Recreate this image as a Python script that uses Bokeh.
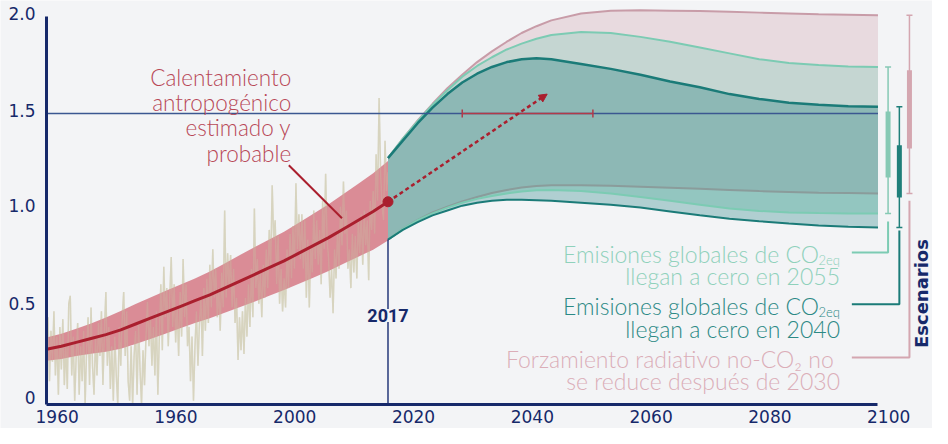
from bokeh.plotting import figure
from bokeh.models import LinearAxis, FixedTicker, Range1d, ColumnDataSource, Arrow, NormalHead
from bokeh.core.properties import value
from bokeh.embed import file_html
from bokeh.resources import INLINE

# ---------------- data ----------------
# observed temperature anomaly, 4 readings per year from 1960
obs_temp = [
    0.30, 0.45, 0.12, 0.38,  0.22, 0.48, 0.15, 0.35,  0.05, 0.40, 0.18, 0.44,
    0.10, 0.30, 0.08, 0.52,  0.56, 0.15, 0.35, 0.02,  0.25, 0.42, 0.05, 0.30,
    0.12, 0.38, 0.00, 0.28,  0.45, 0.10, 0.50, 0.20,  0.05, 0.35, 0.15, 0.42,
    0.25, 0.48, 0.10, 0.38,  0.58, 0.20, 0.40, 0.08,  0.30, 0.02, 0.35, 0.15,
    0.00, 0.40, 0.20, 0.45,  0.58, 0.25, 0.48, 0.12,  0.02, 0.30, 0.00, 0.25,
    0.38, 0.05, 0.42, 0.18,  0.00, 0.28, 0.10, 0.35,  0.53, 0.30, 0.45, 0.20,
    0.40, 0.15, 0.48, 0.05,  0.35, 0.62, 0.28, 0.71,  0.45, 0.60, 0.30, 0.55,
    0.76, 0.40, 0.62, 0.32,  0.50, 0.25, 0.58, 0.35,  0.75, 0.45, 0.62, 0.30,
    0.40, 0.12, 0.35, 0.02,  0.30, 0.48, 0.20, 0.42,  0.55, 0.25, 0.60, 0.38,
    0.65, 0.42, 0.72, 0.50,  0.80, 0.55, 0.70, 0.45,  0.60, 0.38, 0.68, 0.50,
    1.00, 0.55, 0.78, 0.60,  0.77, 0.50, 0.70, 0.42,  0.55, 0.23, 0.45, 0.28,
    0.48, 0.26, 0.55, 0.35,  0.62, 0.40, 0.70, 0.45,  1.01, 0.60, 0.75, 0.52,
    0.68, 0.45, 0.72, 0.55,  0.80, 0.60, 0.90, 0.70,  1.13, 0.85, 0.95, 0.62,
    0.87, 0.52, 0.70, 0.48,  0.65, 0.50, 0.80, 0.60,  0.88, 0.65, 0.92, 0.70,
    1.14, 0.80, 0.98, 0.75,  0.98, 0.70, 0.95, 0.55,  0.85, 0.50, 0.82, 0.68,
    1.00, 0.75, 0.95, 0.72,  0.90, 0.62, 1.05, 0.80,  1.19, 0.85, 0.75, 0.55,
    0.70, 0.47, 0.80, 0.65,  0.90, 0.70, 1.02, 0.82,  1.15, 0.88, 1.00, 0.70,
    0.80, 0.60, 0.88, 0.68,  0.87, 0.65, 0.95, 0.78,  0.98, 0.72, 1.00, 0.82,
    0.95, 0.64, 1.05, 0.90,  1.10, 0.88, 1.29, 1.05,  1.58, 1.20, 1.02, 0.95,
    1.36, 1.10, 1.20,
]
obs_years = [1960 + i / 4 for i in range(len(obs_temp))]

hist_years = [1960, 1962.5, 1965, 1967.5, 1970, 1972.5, 1975, 1977.5, 1980, 1982.5, 1985, 1987.5,
              1990, 1992.5, 1995, 1997.5, 2000, 2002.5, 2005, 2007.5, 2010, 2012.5, 2015, 2017.5]
hist_central = [0.285, 0.30, 0.32, 0.34, 0.36, 0.385, 0.415, 0.445, 0.475, 0.505, 0.535, 0.565,
                0.60, 0.635, 0.67, 0.705, 0.74, 0.78, 0.82, 0.86, 0.905, 0.95, 0.995, 1.045]
hist_high = [0.345, 0.365, 0.39, 0.418, 0.448, 0.482, 0.518, 0.552, 0.585, 0.617, 0.65, 0.685,
             0.727, 0.769, 0.81, 0.85, 0.89, 0.937, 0.985, 1.032, 1.085, 1.138, 1.192, 1.255]
hist_low = [0.225, 0.235, 0.25, 0.262, 0.272, 0.288, 0.312, 0.338, 0.365, 0.393, 0.42, 0.445,
            0.473, 0.501, 0.53, 0.56, 0.59, 0.623, 0.655, 0.688, 0.725, 0.762, 0.798, 0.845]

fut_years = [2017.5, 2020, 2022.5, 2025, 2027.5, 2030, 2032.5, 2035, 2037.5, 2040, 2042.5,
             2045, 2050, 2055, 2060, 2065, 2070, 2075, 2080, 2085, 2090, 2095, 2100]
s2040_high = [1.27, 1.36, 1.45, 1.53, 1.60, 1.66, 1.705, 1.74, 1.765, 1.78, 1.785,
              1.78, 1.755, 1.73, 1.70, 1.665, 1.635, 1.60, 1.575, 1.555, 1.545, 1.538, 1.535]
s2040_low = [0.85, 0.90, 0.94, 0.975, 1.00, 1.025, 1.04, 1.05, 1.055, 1.055, 1.053,
             1.05, 1.04, 1.03, 1.015, 0.995, 0.975, 0.958, 0.945, 0.933, 0.923, 0.916, 0.912]
s2055_high = [1.27, 1.37, 1.46, 1.545, 1.62, 1.69, 1.745, 1.79, 1.83, 1.86, 1.885,
              1.905, 1.92, 1.915, 1.895, 1.87, 1.84, 1.81, 1.78, 1.76, 1.75, 1.742, 1.74]
s2055_low = [0.85, 0.905, 0.95, 0.985, 1.015, 1.04, 1.06, 1.075, 1.088, 1.098, 1.104,
             1.106, 1.10, 1.088, 1.07, 1.05, 1.03, 1.01, 0.998, 0.99, 0.987, 0.985, 0.985]
snonco2_high = [1.27, 1.37, 1.465, 1.55, 1.63, 1.70, 1.765, 1.82, 1.87, 1.915, 1.95,
                1.98, 2.015, 2.03, 2.032, 2.03, 2.028, 2.024, 2.02, 2.016, 2.012, 2.009, 2.006]
snonco2_low = [0.85, 0.905, 0.952, 0.99, 1.02, 1.047, 1.07, 1.09, 1.106, 1.118, 1.126,
               1.13, 1.13, 1.127, 1.122, 1.117, 1.112, 1.106, 1.10, 1.096, 1.092, 1.09, 1.088]

# likely ranges in 2100 (thick part of the scenario bars)
likely_2055 = [1.17, 1.51]
likely_2040 = [1.067, 1.337]
likely_nonco2 = [1.32, 1.723]

NOW_YEAR = 2017.5
NOW_VALUE = 1.045
ARROW_END = [2044.3, 1.60]
THRESHOLD = 1.5
CROSS_RANGE = [2030, 2052]

y_ticks = [0, 0.5, 1.0, 1.5, 2.0]
y_tick_labels = ["0", "0.5", "1.0", "1.5", "2.0"]
x_ticks = [1960, 1980, 2000, 2020, 2040, 2060, 2080, 2100]
x_tick_labels = ["1960", "1960", "2000", "2020", "2040", "2060", "2080", "2100"]

annot_lines = ["Calentamiento", "antropogénico", "estimado y", "probable"]
legend_lines = ["Emisiones globales de CO", "llegan a cero en 2055",
                "Emisiones globales de CO", "llegan a cero en 2040",
                "Forzamiento radiativo  no-CO₂ no", "se reduce después de 2030"]

# ---------------- style ----------------
BG = "#f3f4f6"
NAVY = "#16296a"
BLUE_LINE = "#3b5791"
RED = "#aa1f2e"
RED_BAND = "#cf5f6d"
BEIGE = "#d8d4bf"
ANNOT = "#b84856"
C_R1, C_R2, C_R3, C_R4, C_R5 = "#e8dadf", "#c5d6d2", "#8db8b5", "#93c6c0", "#b0cfd1"
PINK_EDGE, MINT_EDGE, TEAL_EDGE, GRAY_EDGE = "#c89ca8", "#7ccbb3", "#1b7b78", "#8a9c9b"
MINT_TXT, TEAL_TXT, PINK_TXT = "#8fd1bb", "#2b8985", "#dbaeb8"
MINT_BAR, TEAL_BAR, PINK_BAR = "#86c9b4", "#1f7f7a", "#d4a6b0"
TXT_FONT = "Lato Light, Lato, sans-serif"
NUM_FONT = "DejaVu Sans"

# y label offsets (labels sit a little above their value)
Y_LABEL_SHIFT = [0.036, 0.02, 0.025, 0.015, 0.015]
X_LABEL_SHIFT = 1.8

p = figure(width=932, height=428, output_backend="svg", toolbar_location=None, title=None,
           x_range=Range1d(1952.255, 2109.18), y_range=Range1d(-0.1237, 2.0825),
           x_axis_type=None, y_axis_type=None,
           min_border_left=0, min_border_right=0, min_border_top=0, min_border_bottom=0,
           background_fill_color=BG, border_fill_color=BG, outline_line_color=None)

# observed series (under the band, and faintly over it)
p.line(obs_years, obs_temp, line_color=BEIGE, line_width=1.5)

# historical likely band
p.varea(x=hist_years, y1=hist_low, y2=hist_high, fill_color=RED_BAND, fill_alpha=0.7)
p.line(obs_years, obs_temp, line_color=BEIGE, line_width=1.5, line_alpha=0.35)

# future scenario regions (opaque layering)
p.varea(x=fut_years, y1=snonco2_low, y2=snonco2_high, fill_color=C_R1)
p.varea(x=fut_years, y1=s2055_low, y2=s2055_high, fill_color=C_R2)
p.varea(x=fut_years, y1=s2040_low, y2=s2040_high, fill_color=C_R5)
p.varea(x=fut_years, y1=s2055_low, y2=snonco2_low, fill_color=C_R4)
p.varea(x=fut_years, y1=snonco2_low, y2=s2040_high, fill_color=C_R3)

p.line(fut_years, snonco2_high, line_color=PINK_EDGE, line_width=2)
p.line(fut_years, s2055_high, line_color=MINT_EDGE, line_width=2)
p.line(fut_years, snonco2_low, line_color=GRAY_EDGE, line_width=2)
p.line(fut_years, s2055_low, line_color=MINT_EDGE, line_width=2)
p.line(fut_years, s2040_high, line_color=TEAL_EDGE, line_width=2.5)
p.line(fut_years, s2040_low, line_color=TEAL_EDGE, line_width=2)

# 1.5 threshold
p.line([x_ticks[0], x_ticks[-1]], [THRESHOLD, THRESHOLD], line_color=BLUE_LINE, line_width=1.5)
p.line(CROSS_RANGE, [THRESHOLD, THRESHOLD], line_color="#b23a49", line_width=1.5)
p.scatter(CROSS_RANGE, [THRESHOLD, THRESHOLD], marker="dash", angle=1.5708, size=8,
          line_color="#b23a49", line_width=1.5)

# now marker
p.segment(x0=[NOW_YEAR], y0=[0], x1=[NOW_YEAR], y1=[s2040_low[0]], line_color="#26397a", line_width=1.5)
p.text(x=[NOW_YEAR], y=[0.459], text=["2017"], text_align="center", text_baseline="middle",
       text_font=value("Roboto"), text_font_style="bold", text_font_size="18px", text_color=NAVY,
       background_fill_color=BG)

# central estimate line + arrow
p.add_layout(Arrow(end=NormalHead(size=8, fill_color=RED, line_color=RED),
                   x_start=NOW_YEAR, y_start=NOW_VALUE, x_end=ARROW_END[0], y_end=ARROW_END[1],
                   line_color=RED, line_width=2.5, line_dash="4 3"))
p.line(hist_years, hist_central, line_color=RED, line_width=3)
p.scatter([NOW_YEAR], [NOW_VALUE], size=10, fill_color=RED, line_color=RED)

# annotation
p.text(x=[2001.2] * 4, y=[1.686, 1.557, 1.428, 1.295], text=annot_lines, text_align="right",
       text_baseline="middle", text_font=value(TXT_FONT), text_font_size="22.5px", text_color=ANNOT)
p.line([2000.8, 2009.75], [1.233, 0.96], line_color=RED, line_width=2)

# legend texts
LEG_X = 2093.6
leg_src = ColumnDataSource(dict(
    x=[LEG_X] * 6, y=[0.775, 0.663, 0.51, 0.388, 0.233, 0.122], text=legend_lines,
    color=[MINT_TXT, MINT_TXT, TEAL_TXT, TEAL_TXT, PINK_TXT, PINK_TXT],
    xoff=[-21, 0, -21, 0, 0, 0]))
p.text(x="x", y="y", text="text", text_color="color", x_offset="xoff", source=leg_src,
       text_align="right", text_baseline="middle", text_font=value(TXT_FONT), text_font_size="23px")
p.text(x=[LEG_X, LEG_X], y=[0.775, 0.51], text=["2eq", "2eq"], text_color=[MINT_TXT, TEAL_TXT],
       text_align="right", text_baseline="middle", y_offset=6,
       text_font=value(TXT_FONT), text_font_size="13px")

# connectors
PINK_X = 2105.3
p.line([2095.6, 2101.7, 2101.7], [0.784, 0.784, 0.943], line_color=MINT_EDGE, line_width=2)
p.line([2095.6, 2103.6, 2103.6], [0.517, 0.517, 0.897], line_color=TEAL_EDGE, line_width=2)
p.line([2095.6, PINK_X, PINK_X], [0.242, 0.242, 1.05], line_color=PINK_BAR, line_width=2)

# scenario bars (2100 ranges)
bars = [(2101.7, s2055_low[-1], s2055_high[-1], likely_2055, MINT_BAR),
        (2103.6, s2040_low[-1], s2040_high[-1], likely_2040, TEAL_BAR),
        (PINK_X, snonco2_low[-1], snonco2_high[-1], likely_nonco2, PINK_BAR)]
for bx, lo, hi, likely, col in bars:
    p.segment(x0=[bx], y0=[lo], x1=[bx], y1=[hi], line_color=col, line_width=1.5)
    p.scatter([bx, bx], [lo, hi], marker="dash", size=6, line_color=col, line_width=1.5)
    p.segment(x0=[bx], y0=[likely[0]], x1=[bx], y1=[likely[1]], line_color=col, line_width=5)

p.text(x=[2107.35], y=[0.572], text=["Escenarios"], angle=1.5708, text_align="center",
       text_baseline="middle", text_font=value("DejaVu Sans"), text_font_style="bold",
       text_font_size="18px", text_color=NAVY)

# axes (fixed inside the frame)
yline = LinearAxis(fixed_location=x_ticks[0], bounds=(y_ticks[0], y_ticks[-1]),
                   ticker=FixedTicker(ticks=[]), axis_line_color=NAVY, axis_line_width=3,
                   major_tick_line_color=None, minor_tick_line_color=None, major_tick_out=0,
                   major_label_text_font_size="0px")
p.add_layout(yline, "left")
ylab_pos = [t + s for t, s in zip(y_ticks, Y_LABEL_SHIFT)]
ylab = LinearAxis(fixed_location=x_ticks[0], ticker=FixedTicker(ticks=ylab_pos),
                  major_label_overrides={pos: lab for pos, lab in zip(ylab_pos, y_tick_labels)},
                  axis_line_color=None, major_tick_line_color=None, minor_tick_line_color=None,
                  major_tick_out=0, major_tick_in=0, major_label_standoff=11,
                  major_label_text_font=NUM_FONT, major_label_text_font_size="17px",
                  major_label_text_color=NAVY)
p.add_layout(ylab, "left")

xline = LinearAxis(fixed_location=0, bounds=(x_ticks[0], x_ticks[-1]), ticker=FixedTicker(ticks=[]),
                   axis_line_color=NAVY, axis_line_width=3, major_tick_line_color=None,
                   minor_tick_line_color=None, major_tick_out=0, major_label_text_font_size="0px")
p.add_layout(xline, "below")
xlab_pos = [t + X_LABEL_SHIFT for t in x_ticks]
xlab = LinearAxis(fixed_location=0, ticker=FixedTicker(ticks=xlab_pos),
                  major_label_overrides={pos: lab for pos, lab in zip(xlab_pos, x_tick_labels)},
                  axis_line_color=None, major_tick_line_color=None, minor_tick_line_color=None,
                  major_tick_out=0, major_tick_in=0, major_label_standoff=5,
                  major_label_text_font=NUM_FONT, major_label_text_font_size="17px",
                  major_label_text_color=NAVY)
p.add_layout(xlab, "below")

open("out.html", "w").write(file_html(p, INLINE))
